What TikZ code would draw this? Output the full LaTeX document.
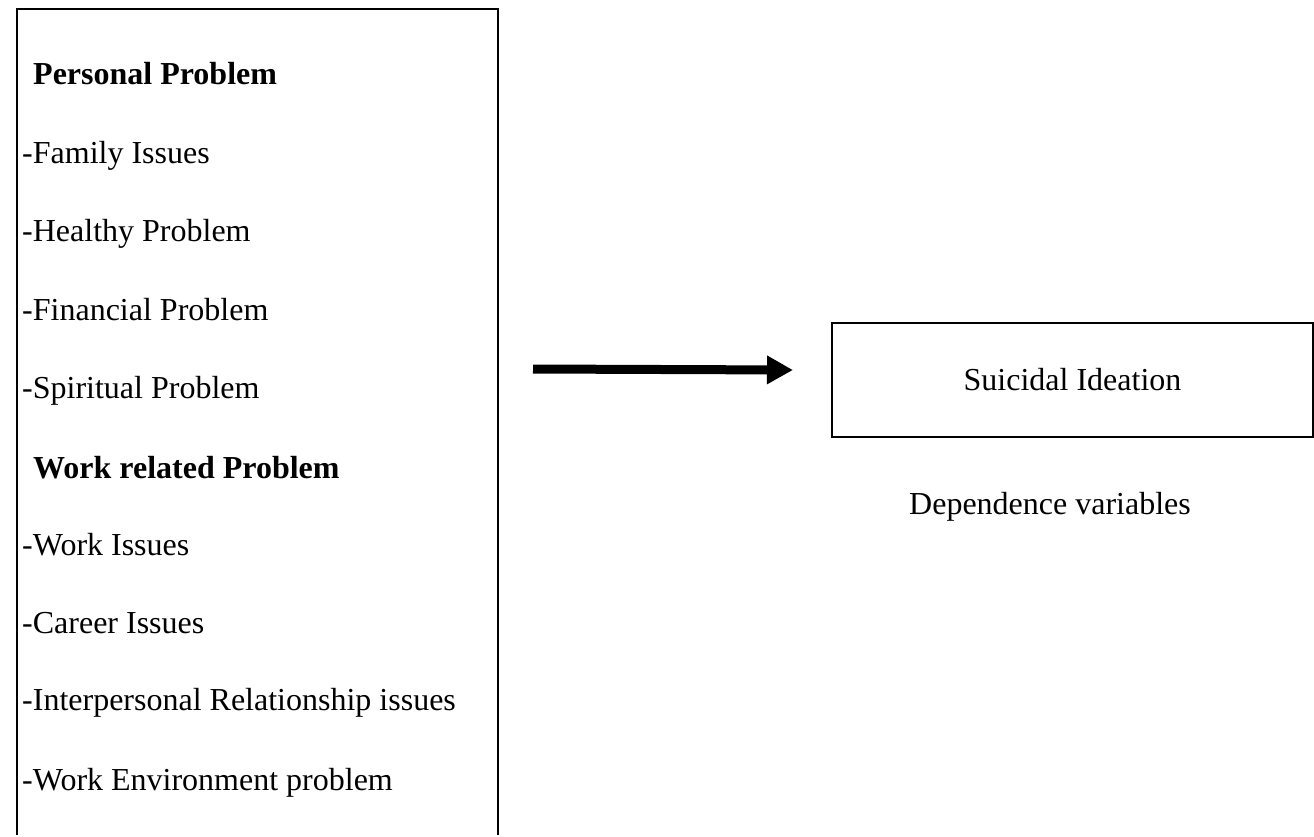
\documentclass[tikz,border=0pt]{standalone}
\usepackage{fontspec}
\setmainfont{Liberation Serif}
\usetikzlibrary{arrows.meta}
\begin{document}
\begin{tikzpicture}[x=1pt,y=-1pt,
  txt/.style={font=\fontsize{32}{38}\selectfont, inner sep=0pt, anchor=base west},
  head/.style={font=\fontsize{32}{38}\selectfont\bfseries, inner sep=0pt, anchor=base west},
  frame/.style={line width=1.5pt}]
\useasboundingbox (0,0) rectangle (1314,836);
% left box (open at the bottom, runs off the page)
\node[inner sep=0pt, minimum width=481pt, minimum height=826pt] (leftbox) at (257.5,422) {};
\draw[frame] (leftbox.south west) -- (leftbox.north west) -- (leftbox.north east) -- (leftbox.south east);
\node[head] (h1) at (33,84) {Personal Problem};
\node[txt] (i1) at (22,163) {-Family Issues};
\node[txt] (i2) at (22,241) {-Healthy Problem};
\node[txt] (i3) at (22,320) {-Financial Problem};
\node[txt] (i4) at (22,398) {-Spiritual Problem};
\node[head] (h2) at (33,478) {Work related Problem};
\node[txt] (i5) at (22,555) {-Work Issues};
\node[txt] (i6) at (22,633) {-Career Issues};
\node[txt] (i7) at (22,710) {-Interpersonal Relationship issues};
\node[txt] (i8) at (22,790) {-Work Environment problem};
% right box
\node[draw, frame, minimum width=481pt, minimum height=114pt, inner sep=0pt,
      font=\fontsize{32}{38}\selectfont] (suic) at (1072.5,380) {Suicidal Ideation};
\node[font=\fontsize{32}{38}\selectfont, inner sep=0pt, anchor=base] (dep) at (1050,514) {Dependence variables};
% arrow
\coordinate (as) at (533,369);
\coordinate (ae) at (793,370);
\draw[line width=9pt, -{Triangle[length=26pt,width=27pt]}] (as) -- (ae);
\end{tikzpicture}
\end{document}
